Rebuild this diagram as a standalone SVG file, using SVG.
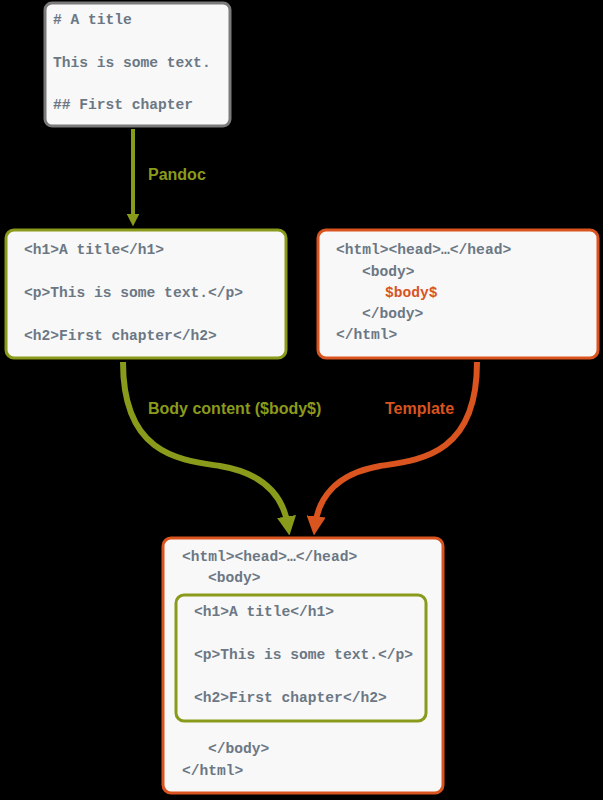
<svg xmlns="http://www.w3.org/2000/svg" width="603" height="800" viewBox="0 0 603 800">
<style>
.code{font-family:"Liberation Mono","Courier New",monospace;font-size:14.6px;font-weight:bold;fill:#6b7784}
.box{fill:#f8f8f8;stroke-width:3}
.lbl{font-family:"Liberation Sans",Arial,sans-serif;font-size:16px;font-weight:bold}
</style>
<defs>
<marker id="ag" viewBox="0 0 10 10" refX="5" refY="7" markerWidth="3.2" markerHeight="3.2" orient="auto-start-reverse" markerUnits="strokeWidth"><path d="M0,0 L10,5 L0,10 z" fill="#8a9a1b" transform="rotate(0)"/></marker>
<marker id="ao" viewBox="0 0 10 10" refX="5" refY="5" markerWidth="3.2" markerHeight="3.2" orient="auto" markerUnits="strokeWidth"><path d="M0,0 L10,5 L0,10 z" fill="#d9541e"/></marker>
<marker id="ag2" viewBox="0 0 10 10" refX="5" refY="5" markerWidth="3.2" markerHeight="3.2" orient="auto" markerUnits="strokeWidth"><path d="M0,0 L10,5 L0,10 z" fill="#8a9a1b"/></marker>
</defs>
<rect width="603" height="800" fill="#000"/>
<g id="connectors" fill="none">
<path d="M133,129 L133,220" stroke="#8a9a1b" stroke-width="4" marker-end="url(#ag2)"/>
<path d="M123,362 C123,455 180,460 220,466 C268,474 284,500 288,526" stroke="#8a9a1b" stroke-width="6" marker-end="url(#ag2)"/>
<path d="M477,362 C477,455 420,460 380,466 C334,474 318,500 315,526" stroke="#d9541e" stroke-width="6" marker-end="url(#ao)"/>
<text class="lbl" x="148" y="180" fill="#8a9a1b">Pandoc</text>
<text class="lbl" x="148" y="414" fill="#8a9a1b">Body content ($body$)</text>
<text class="lbl" x="385" y="414" fill="#d9541e">Template</text>
</g>
<g id="markdown">
<rect class="box" x="45" y="3" width="185" height="123" rx="7" stroke="#7a7a7a"/>
<text class="code" x="53" y="24">#&#160;A title</text>
<text class="code" x="53" y="67">This is some text.</text>
<text class="code" x="53" y="109">##&#160;First chapter</text>
</g>
<g id="html-body">
<rect class="box" x="6" y="230" width="280" height="128" rx="8" stroke="#8a9a1b"/>
<text class="code" x="24" y="254">&lt;h1&gt;A title&lt;/h1&gt;</text>
<text class="code" x="24" y="297">&lt;p&gt;This is some text.&lt;/p&gt;</text>
<text class="code" x="24" y="340">&lt;h2&gt;First chapter&lt;/h2&gt;</text>
</g>
<g id="template">
<rect class="box" x="318" y="230" width="280" height="128" rx="8" stroke="#d9541e"/>
<text class="code" x="336" y="254">&lt;html&gt;&lt;head&gt;…&lt;/head&gt;</text>
<text class="code" x="362" y="276">&lt;body&gt;</text>
<text class="code" x="385" y="297" style="fill:#d9541e">$body$</text>
<text class="code" x="362" y="318">&lt;/body&gt;</text>
<text class="code" x="336" y="339">&lt;/html&gt;</text>
</g>
<g id="result">
<rect class="box" x="163" y="538" width="280" height="255" rx="8" stroke="#d9541e"/>
<text class="code" x="182" y="561">&lt;html&gt;&lt;head&gt;…&lt;/head&gt;</text>
<text class="code" x="208" y="582">&lt;body&gt;</text>
<text class="code" x="208" y="753">&lt;/body&gt;</text>
<text class="code" x="182" y="775">&lt;/html&gt;</text>
<g id="result-body">
<rect class="box" x="176" y="595" width="250" height="126" rx="8" stroke="#8a9a1b"/>
<text class="code" x="194" y="616">&lt;h1&gt;A title&lt;/h1&gt;</text>
<text class="code" x="194" y="659">&lt;p&gt;This is some text.&lt;/p&gt;</text>
<text class="code" x="194" y="702">&lt;h2&gt;First chapter&lt;/h2&gt;</text>
</g>
</g>
</svg>
